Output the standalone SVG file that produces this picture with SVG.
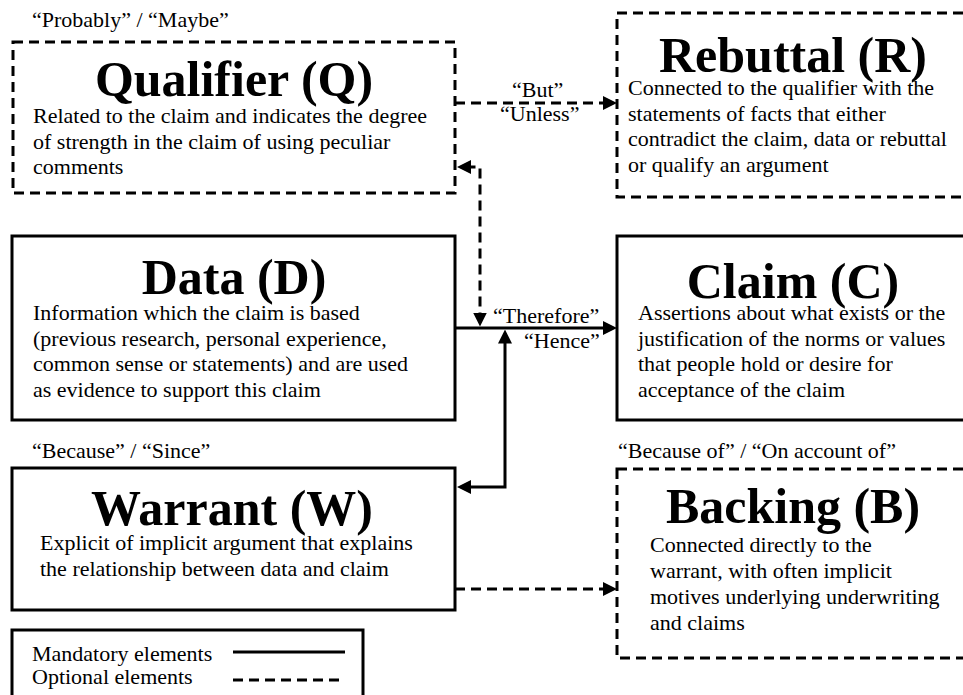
<svg xmlns="http://www.w3.org/2000/svg" width="963" height="695" viewBox="0 0 963 695">
<style>
.box{fill:none;stroke:#000;stroke-width:3}
.dash{stroke-dasharray:10 6}
.conn{fill:none;stroke:#000;stroke-width:3}
.title{font-family:"Liberation Serif","Times New Roman",serif;font-weight:bold;font-size:50px;text-anchor:middle;fill:#000}
.body{font-family:"Liberation Serif","Times New Roman",serif;font-size:22px;fill:#000}
</style>
<defs>
<marker id="arr" viewBox="0 0 14 14" refX="10" refY="7" markerWidth="14" markerHeight="14" markerUnits="userSpaceOnUse" orient="auto-start-reverse">
<path d="M0,0 L14,7 L0,14 z" fill="#000"/>
</marker>
</defs>
<rect width="963" height="695" fill="#fff"/>

<g id="qualifier">
<text class="body" x="32" y="27">“Probably” / “Maybe”</text>
<rect class="box dash" x="13" y="42" width="442" height="151"/>
<text class="title" x="234" y="96">Qualifier (Q)</text>
<text class="body" x="33" y="123">Related to the claim and indicates the degree</text>
<text class="body" x="33" y="148.5">of strength in the claim of using peculiar</text>
<text class="body" x="33" y="174">comments</text>
</g>

<g id="rebuttal">
<rect class="box dash" x="617" y="13" width="360" height="184"/>
<text class="title" x="793" y="72">Rebuttal (R)</text>
<text class="body" x="628" y="95">Connected to the qualifier with the</text>
<text class="body" x="628" y="120.5">statements of facts that either</text>
<text class="body" x="628" y="146">contradict the claim, data or rebuttal</text>
<text class="body" x="628" y="171.5">or qualify an argument</text>
</g>

<g id="data">
<rect class="box" x="12" y="236" width="443" height="184"/>
<text class="title" x="234" y="294">Data (D)</text>
<text class="body" x="33" y="320">Information which the claim is based</text>
<text class="body" x="33" y="345.5">(previous research, personal experience,</text>
<text class="body" x="33" y="371">common sense or statements) and are used</text>
<text class="body" x="33" y="396.5">as evidence to support this claim</text>
</g>

<g id="claim">
<rect class="box" x="617" y="236" width="360" height="184"/>
<text class="title" x="793" y="298">Claim (C)</text>
<text class="body" x="638" y="320">Assertions about what exists or the</text>
<text class="body" x="638" y="345.5">justification of the norms or values</text>
<text class="body" x="638" y="371">that people hold or desire for</text>
<text class="body" x="638" y="396.5">acceptance of the claim</text>
</g>

<g id="warrant">
<text class="body" x="32" y="458">“Because” / “Since”</text>
<rect class="box" x="12" y="468" width="443" height="142"/>
<text class="title" x="232" y="525">Warrant (W)</text>
<text class="body" x="40" y="550">Explicit of implicit argument that explains</text>
<text class="body" x="40" y="575.5">the relationship between data and claim</text>
</g>

<g id="backing">
<text class="body" x="618" y="458">“Because of” / “On account of”</text>
<rect class="box dash" x="617" y="469" width="360" height="189"/>
<text class="title" x="793" y="523">Backing (B)</text>
<text class="body" x="650" y="552">Connected directly to the</text>
<text class="body" x="650" y="578">warrant, with often implicit</text>
<text class="body" x="650" y="604">motives underlying underwriting</text>
<text class="body" x="650" y="630">and claims</text>
</g>

<g id="legend">
<rect class="box" x="12" y="630" width="351" height="80"/>
<text class="body" x="32" y="661">Mandatory elements</text>
<text class="body" x="32" y="684">Optional elements</text>
<line class="conn" x1="233" y1="652" x2="345" y2="652"/>
<line class="conn dash" x1="233" y1="680" x2="345" y2="680"/>
</g>

<g id="connectors">
<path class="conn dash" d="M455,103 H613" marker-end="url(#arr)"/>
<path class="conn" d="M455,328 H613" marker-end="url(#arr)"/>
<path class="conn dash" d="M455,589 H613" marker-end="url(#arr)"/>
<path class="conn dash" d="M480,322.5 V167 H461" marker-start="url(#arr)" marker-end="url(#arr)"/>
<path class="conn" d="M505,333.5 V487 H461" marker-start="url(#arr)" marker-end="url(#arr)"/>
<text class="body" x="512" y="97">“But”</text>
<text class="body" x="500" y="121">“Unless”</text>
<text class="body" x="493" y="323">“Therefore”</text>
<text class="body" x="524" y="348">“Hence”</text>
</g>
</svg>
